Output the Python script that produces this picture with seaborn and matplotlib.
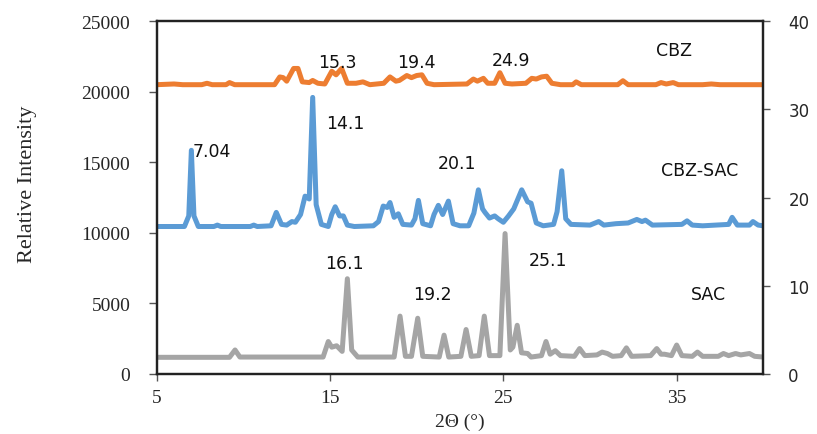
import matplotlib
matplotlib.use("Agg")
import matplotlib.pyplot as plt
import seaborn as sns
import pandas as pd

# ---------------- data ----------------
cbz_x = [5.0, 6.0, 6.5, 7.6, 7.9, 8.2, 9.0, 9.2, 9.5, 11.8, 12.1, 12.3, 12.5, 12.9, 13.15,
         13.4, 13.8, 14.0, 14.3, 14.7, 15.1, 15.35, 15.67, 16.0, 16.5, 16.9, 17.3, 18.1,
         18.46, 18.8, 19.0, 19.43, 19.7, 20.0, 20.3, 20.6, 21.0, 22.9, 23.27, 23.5, 23.85,
         24.1, 24.5, 24.8, 25.1, 25.5, 26.3, 26.64, 26.9, 27.2, 27.5, 27.8, 28.3, 29.0,
         29.2, 29.5, 31.6, 31.9, 32.2, 33.8, 34.1, 34.4, 34.8, 35.1, 36.5, 37.0, 37.5, 40.0]
cbz_y = [20500, 20550, 20500, 20500, 20600, 20500, 20500, 20650, 20500, 20500, 21050, 21000,
         20750, 21650, 21650, 20700, 20650, 20800, 20600, 20550, 21450, 21200, 21650, 20600,
         20600, 20700, 20500, 20600, 21050, 20750, 20800, 21150, 21000, 21150, 21200, 20600,
         20500, 20550, 20900, 20750, 20950, 20600, 20600, 21350, 20600, 20550, 20600, 20950,
         20900, 21050, 21100, 20600, 20500, 20500, 20700, 20500, 20500, 20780, 20500, 20500,
         20650, 20550, 20650, 20500, 20500, 20550, 20500, 20500]

cocrystal_x = [5.0, 6.6, 6.85, 7.0, 7.15, 7.4, 8.3, 8.5, 8.7, 10.4, 10.6, 10.8, 11.6, 11.9,
               12.2, 12.5, 12.8, 13.0, 13.3, 13.56, 13.8, 14.0, 14.2, 14.5, 14.9, 15.1, 15.3,
               15.55, 15.77, 16.0, 16.4, 17.5, 17.8, 18.07, 18.3, 18.46, 18.7, 18.94, 19.2,
               19.7, 19.9, 20.1, 20.35, 20.8, 21.0, 21.25, 21.5, 21.83, 22.1, 22.5, 23.0, 23.3,
               23.56, 23.8, 23.94, 24.2, 24.5, 24.7, 25.0, 25.3, 25.6, 26.06, 26.4, 26.6, 26.9,
               27.3, 27.9, 28.1, 28.37, 28.6, 28.9, 30.0, 30.5, 30.8, 31.5, 32.2, 32.7, 33.0,
               33.2, 33.6, 35.3, 35.6, 35.9, 36.5, 38.0, 38.2, 38.5, 39.2, 39.4, 39.7, 40.0]
cocrystal_y = [10450, 10450, 11200, 15850, 11200, 10450, 10450, 10550, 10450, 10450, 10550,
               10450, 10500, 11450, 10600, 10550, 10800, 10750, 11300, 12600, 12400, 19600,
               12000, 10600, 10450, 11300, 11850, 11200, 11200, 10550, 10450, 10500, 10800,
               11900, 11800, 12150, 11100, 11350, 10600, 10550, 11000, 12300, 10650, 10500,
               11300, 11950, 11300, 12250, 10650, 10500, 10500, 11400, 13050, 11700, 11450,
               11050, 11200, 11000, 10750, 11200, 11700, 13050, 12200, 12100, 10700, 10500,
               10600, 11500, 14400, 11000, 10600, 10550, 10800, 10550, 10650, 10700, 10950,
               10800, 10900, 10550, 10600, 10850, 10550, 10500, 10600, 11100, 10550, 10550,
               10800, 10550, 10500]

sac_x = [5.0, 9.2, 9.52, 9.8, 14.6, 14.9, 15.1, 15.38, 15.7, 16.0, 16.25, 16.6, 18.7, 19.04,
         19.35, 19.7, 20.06, 20.35, 21.3, 21.58, 21.85, 22.55, 22.85, 23.15, 23.6, 23.9, 24.2,
         24.8, 25.1, 25.4, 25.55, 25.8, 26.05, 26.4, 26.6, 27.2, 27.46, 27.7, 28.0, 28.3, 29.1,
         29.4, 29.7, 30.4, 30.7, 31.0, 31.3, 31.8, 32.1, 32.4, 33.5, 33.85, 34.1, 34.3, 34.7,
         35.0, 35.3, 35.9, 36.2, 36.5, 37.4, 37.7, 38.0, 38.4, 38.7, 39.2, 39.5, 40.0]
sac_y = [1180, 1180, 1700, 1200, 1200, 2300, 1900, 2000, 1600, 6750, 1700, 1200, 1200, 4100,
         1250, 1250, 3950, 1250, 1200, 2750, 1200, 1250, 3150, 1250, 1300, 4100, 1300, 1300,
         9950, 1700, 1900, 3450, 1500, 1450, 1200, 1300, 2300, 1400, 1650, 1300, 1250, 1800,
         1300, 1350, 1550, 1450, 1250, 1300, 1850, 1250, 1300, 1800, 1400, 1400, 1300, 2050,
         1300, 1250, 1550, 1250, 1250, 1450, 1300, 1450, 1350, 1450, 1250, 1200]

series_names = ["CBZ", "CBZ-SAC", "SAC"]
series_colors = ["#ED7D31", "#5B9BD5", "#A5A5A5"]

peak_labels = ["15.3", "19.4", "24.9", "14.1", "7.04", "20.1", "16.1", "19.2", "25.1"]
peak_label_x = [15.40, 19.96, 25.44, 15.89, 8.19, 22.33, 15.84, 20.91, 27.58]
peak_label_y = [22130, 22130, 22220, 17800, 15770, 14970, 7870, 5670, 8110]

name_label_x = [34.85, 36.35, 36.81]
name_label_y = [22930, 14420, 5670]

left_ticks = [0, 5000, 10000, 15000, 20000, 25000]
right_ticks = [0, 10, 20, 30, 40]
x_ticks = [5, 15, 25, 35]

# ---------------- frame ----------------
frames = []
for name, xs, ys in zip(series_names, [cbz_x, cocrystal_x, sac_x], [cbz_y, cocrystal_y, sac_y]):
    frames.append(pd.DataFrame({"two_theta": xs, "intensity": ys, "sample": name}))
df = pd.concat(frames, ignore_index=True)

sns.set_style("white")
plt.rcParams["font.family"] = ["Liberation Serif", "DejaVu Sans"]

fig = plt.figure(figsize=(8.17, 4.35), dpi=100)
ax = fig.add_axes([0.1918, 0.138, 0.7425, 0.811])

sns.lineplot(data=df, x="two_theta", y="intensity", hue="sample",
             hue_order=series_names, palette=series_colors, estimator=None,
             sort=False, linewidth=3.6, legend=False, ax=ax,
             solid_joinstyle="round", solid_capstyle="round")

ax.set_xlim(5, 40)
ax.set_ylim(0, 25000)
ax.set_xticks(x_ticks)
ax.set_yticks(left_ticks)
ax.set_xticklabels([str(t) for t in x_ticks], fontsize=14, family="Liberation Serif")
ax.set_yticklabels([str(t) for t in left_ticks], fontsize=14, family="Liberation Serif")
ax.tick_params(axis="y", direction="out", length=6, width=1, color="#555555", pad=13, left=True)
ax.tick_params(axis="x", direction="out", length=5, width=1, color="#555555", pad=6, bottom=True)

ax.set_xlabel("2Θ (°)", fontsize=14, family="Liberation Serif")
ax.set_ylabel("Relative Intensity", fontsize=16, family="Liberation Serif")
ax.yaxis.set_label_coords(-0.197, 0.54)
ax.xaxis.set_label_coords(0.5, -0.11)

for sp in ax.spines.values():
    sp.set_visible(True)
    sp.set_color("#222222")
    sp.set_linewidth(1.6)

ax2 = ax.twinx()
ax2.set_ylim(0, 40)
ax2.set_yticks(right_ticks)
ax2.set_yticklabels([str(t) for t in right_ticks], fontsize=12, family="DejaVu Sans")
ax2.tick_params(axis="y", direction="out", length=5, width=1, color="#555555", pad=13, right=True)
for sp in ax2.spines.values():
    sp.set_visible(True)
    sp.set_color("#222222")
    sp.set_linewidth(1.6)
ax2.grid(False)

for t, x, y in zip(peak_labels, peak_label_x, peak_label_y):
    ax.text(x, y, t, ha="center", va="center", fontsize=12.5, family="DejaVu Sans", color="#111111")
for t, x, y in zip(series_names, name_label_x, name_label_y):
    ax.text(x, y, t, ha="center", va="center", fontsize=12.5, family="DejaVu Sans", color="#111111")

fig.savefig("out.png", dpi=100)
